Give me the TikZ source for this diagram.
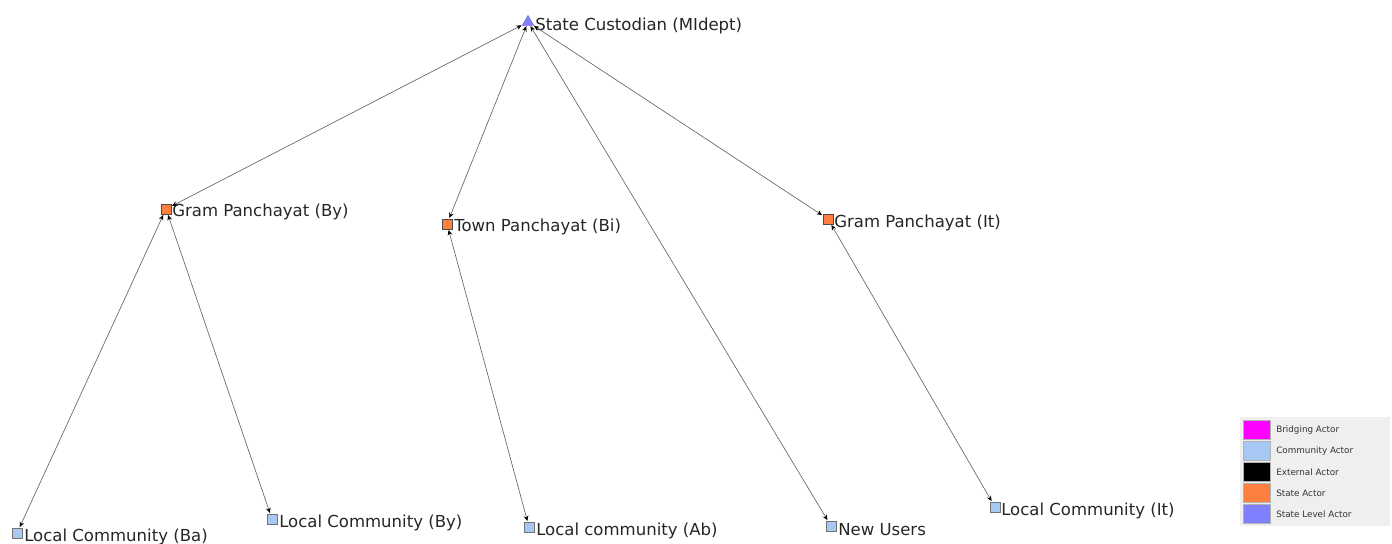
\documentclass[tikz,border=0pt]{standalone}
\usepackage{fontspec}
\setmainfont{DejaVu Sans}
\usetikzlibrary{arrows.meta,shapes.geometric}
\definecolor{stateactor}{HTML}{FF7F40}
\definecolor{commactor}{HTML}{A6C8F2}
\definecolor{levelactor}{HTML}{8080FF}
\definecolor{bridgeactor}{HTML}{FF00FF}
\definecolor{legendbg}{HTML}{EFEFEF}
\tikzset{
  actor/.style={draw, line width=0.5pt, minimum size=7.5, inner sep=0pt},
  stnode/.style={actor, fill=stateactor, draw=black!70},
  cmnode/.style={actor, fill=commactor, draw=black!55},
  lvnode/.style={regular polygon, regular polygon sides=3, fill=levelactor, draw=levelactor!80!black, line width=0.3pt, minimum size=10, inner sep=0pt},
  lbl/.style={font=\fontsize{12.4}{14}\selectfont, text=black!85, inner sep=0pt, anchor=west},
  tie/.style={draw=black!60, line width=0.5pt, {Stealth[length=4,width=3.5,black]}-{Stealth[length=4,width=3.5,black]}, shorten <=0.5pt, shorten >=0.5pt},
  swatch/.style={draw=black!30, line width=0.4pt},
  keytext/.style={font=\fontsize{6.6}{8}\selectfont, text=black!80, anchor=west, inner sep=0pt}
}
\begin{document}
\begin{tikzpicture}[x=0.75pt,y=-0.75pt]
\useasboundingbox (0,0) rectangle (1392,543);
% actors
\node[lvnode] (sc) at (528,22) {};
\node[lbl] at (535,26) {State Custodian (MIdept)};
\node[stnode] (gpby) at (166,209) {};
\node[lbl] at (172,212) {Gram Panchayat (By)};
\node[stnode] (tpbi) at (447,224) {};
\node[lbl] at (454,227) {Town Panchayat (Bi)};
\node[stnode] (gpit) at (828,219) {};
\node[lbl] at (834,223) {Gram Panchayat (It)};
\node[cmnode] (lcba) at (17,533) {};
\node[lbl] at (24,537) {Local Community (Ba)};
\node[cmnode] (lcby) at (272,519) {};
\node[lbl] at (279,523) {Local Community (By)};
\node[cmnode] (lcab) at (529,527) {};
\node[lbl] at (536,531) {Local community (Ab)};
\node[cmnode] (nusr) at (831,526) {};
\node[lbl] at (838,530) {New Users};
\node[cmnode] (lcit) at (995,507) {};
\node[lbl] at (1001,511) {Local Community (It)};
% ties
\draw[tie] (sc) -- (gpby);
\draw[tie] (sc) -- (tpbi);
\draw[tie] (sc) -- (nusr);
\draw[tie] (sc) -- (gpit);
\draw[tie] (gpby) -- (lcba);
\draw[tie] (gpby) -- (lcby);
\draw[tie] (tpbi) -- (lcab);
\draw[tie] (gpit) -- (lcit);
% legend
\fill[legendbg] (1240,417) rectangle (1390,526);
\draw[swatch, fill=bridgeactor] (1243,420) rectangle (1270,439);
\node[keytext] at (1276,430) {Bridging Actor};
\draw[swatch, fill=commactor] (1243,441) rectangle (1270,460);
\node[keytext] at (1276,451) {Community Actor};
\draw[swatch, fill=black] (1243,462) rectangle (1270,481);
\node[keytext] at (1276,472) {External Actor};
\draw[swatch, fill=stateactor] (1243,483) rectangle (1270,502);
\node[keytext] at (1276,493) {State Actor};
\draw[swatch, fill=levelactor] (1243,504) rectangle (1270,523);
\node[keytext] at (1276,514) {State Level Actor};
\end{tikzpicture}
\end{document}
